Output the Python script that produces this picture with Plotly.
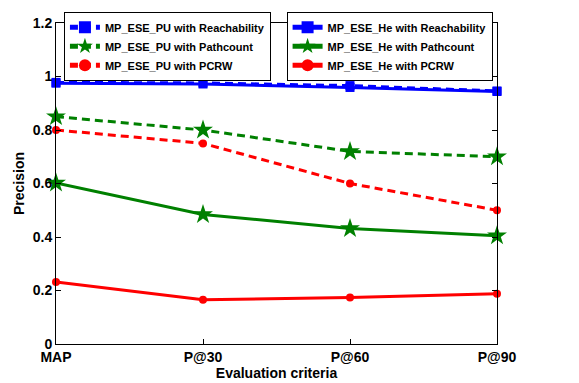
import plotly.graph_objects as go

categories = ["MAP", "P@30", "P@60", "P@90"]
pu_reach = [0.978, 0.976, 0.966, 0.946]
pu_path = [0.85, 0.80, 0.72, 0.70]
pu_pcrw = [0.80, 0.75, 0.60, 0.50]
he_reach = [0.975, 0.972, 0.959, 0.944]
he_path = [0.602, 0.484, 0.432, 0.405]
he_pcrw = [0.232, 0.165, 0.174, 0.188]

xpos = list(range(len(categories)))
fig = go.Figure()

series = [
    ("MP_ESE_PU with Reachability", pu_reach, "blue", "8px,5px", "square", 9, "legend"),
    ("MP_ESE_PU with Pathcount", pu_path, "green", "8px,5px", "star", 15, "legend"),
    ("MP_ESE_PU with PCRW", pu_pcrw, "red", "8px,5px", "circle", 8, "legend"),
    ("MP_ESE_He with Reachability", he_reach, "blue", "solid", "square", 9, "legend2"),
    ("MP_ESE_He with Pathcount", he_path, "green", "solid", "star", 15, "legend2"),
    ("MP_ESE_He with PCRW", he_pcrw, "red", "solid", "circle", 8, "legend2"),
]
for name, ys, col, dash, sym, sz, leg in series:
    fig.add_trace(go.Scatter(
        x=xpos, y=ys, name="<b>%s</b>" % name, mode="lines+markers",
        line=dict(color=col, width=3, dash=dash),
        marker=dict(symbol=sym, size=sz, color=col),
        legend=leg, cliponaxis=False,
    ))

font = dict(family="Liberation Sans", size=14, color="black")
legfont = dict(family="Liberation Sans", size=11, color="black")

fig.update_layout(
    width=579, height=383,
    margin=dict(l=56, r=82, t=18, b=39),
    paper_bgcolor="white", plot_bgcolor="white",
    font=font,
    showlegend=True,
    legend=dict(x=0.018, y=1.035, xanchor="left", yanchor="top",
                bgcolor="white", bordercolor="black", borderwidth=1,
                font=legfont, tracegroupgap=0, itemsizing="constant"),
    legend2=dict(x=0.99, y=1.035, xanchor="right", yanchor="top",
                 bgcolor="white", bordercolor="black", borderwidth=1,
                 font=legfont, tracegroupgap=0, itemsizing="constant"),
    xaxis=dict(
        range=[0, 3], tickmode="array", tickvals=xpos, ticktext=["<b>%s</b>" % c for c in categories],
        ticks="inside", ticklen=5, tickcolor="black", showline=True, linecolor="black",
        linewidth=1, mirror="ticks", showgrid=False, zeroline=False, automargin=False,
        title=dict(text="<b>Evaluation criteria</b>", standoff=0, font=font),
        tickfont=font,
    ),
    yaxis=dict(
        range=[0, 1.2], tickmode="array", tickvals=[0, 0.2, 0.4, 0.6, 0.8, 1.0, 1.2],
        ticktext=["<b>0</b>", "<b>0.2</b>", "<b>0.4</b>", "<b>0.6</b>", "<b>0.8</b>", "<b>1</b>", "<b>1.2</b>"],
        ticks="inside", ticklen=5, tickcolor="black", showline=True, linecolor="black",
        linewidth=1, mirror="ticks", showgrid=False, zeroline=False, automargin=False,
        title=dict(text="<b>Precision</b>", standoff=4, font=font),
        tickfont=font,
    ),
)

fig.write_html("out.html", config={"displayModeBar": False},
               post_script="document.body.style.margin='0';")
